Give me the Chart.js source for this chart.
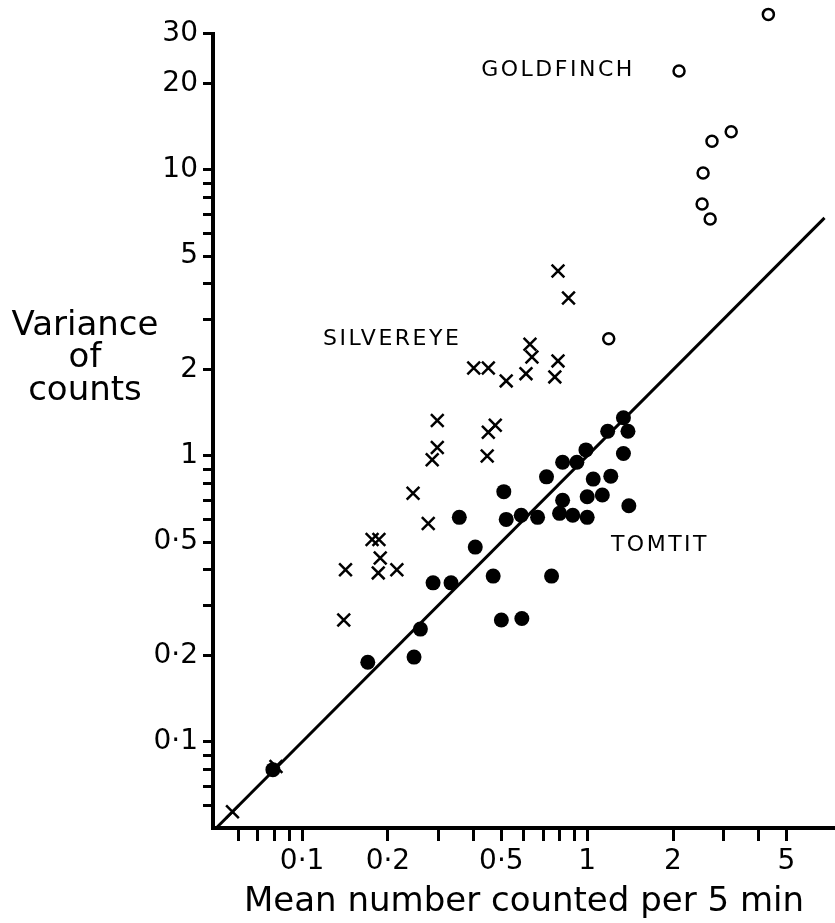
<!DOCTYPE html>
<html>
<head>
<meta charset="utf-8">
<script src="https://cdn.jsdelivr.net/npm/chart.js@4/dist/chart.umd.min.js"></script>
<style>
html,body{margin:0;padding:0;background:#ffffff;}
#wrap{width:835px;height:923px;position:relative;}
</style>
</head>
<body>
<div id="wrap"><canvas id="c" width="835" height="923"></canvas></div>
<script>
// ---- data ----
const tomtitMean = [0.079, 0.17, 0.247, 0.26, 0.288, 0.333, 0.356, 0.405, 0.468, 0.50, 0.59, 0.51, 0.52, 0.587, 0.67, 0.72, 0.75, 0.82, 0.92, 0.99, 0.82, 0.80, 0.89, 1.0, 1.0, 1.13, 1.05, 1.21, 1.18, 1.34, 1.39, 1.34, 1.40];
const tomtitVar  = [0.080, 0.19, 0.198, 0.248, 0.36, 0.36, 0.61, 0.48, 0.38, 0.267, 0.27, 0.75, 0.60, 0.62, 0.61, 0.845, 0.38, 0.95, 0.95, 1.05, 0.70, 0.63, 0.62, 0.61, 0.72, 0.73, 0.83, 0.85, 1.22, 1.36, 1.22, 1.02, 0.67];

const silvereyeMean = [0.057, 0.081, 0.14, 0.142, 0.176, 0.186, 0.188, 0.185, 0.215, 0.245, 0.277, 0.298, 0.298, 0.286, 0.40, 0.45, 0.52, 0.61, 0.63, 0.64, 0.79, 0.77, 0.476, 0.45, 0.446, 0.79, 0.86];
const silvereyeVar  = [0.057, 0.082, 0.267, 0.40, 0.51, 0.51, 0.44, 0.39, 0.40, 0.74, 0.58, 1.33, 1.07, 0.97, 2.03, 2.03, 1.83, 1.94, 2.46, 2.22, 2.15, 1.89, 1.28, 1.21, 1.0, 4.43, 3.57];

const goldfinchMean = [4.32, 2.10, 3.20, 2.74, 2.55, 2.53, 2.70, 1.19];
const goldfinchVar  = [35, 22.2, 13.6, 12.6, 9.76, 7.6, 6.74, 2.57];

const lineMean = [0.05, 6.8];
const lineVar  = [0.05, 6.8];

const xTickValues = [0.06, 0.07, 0.08, 0.09, 0.1, 0.2, 0.3, 0.4, 0.5, 0.6, 0.7, 0.8, 0.9, 1, 2, 3, 4, 5];
const xLabelValues = [0.1, 0.2, 0.5, 1, 2, 5];
const xLabelTexts  = ['0·1', '0·2', '0·5', '1', '2', '5'];

const yTickValues = [0.06, 0.07, 0.08, 0.09, 0.1, 0.2, 0.3, 0.4, 0.5, 0.6, 0.7, 0.8, 0.9, 1, 2, 3, 4, 5, 6, 7, 8, 9, 10, 20, 30];
const yLabelValues = [0.1, 0.2, 0.5, 1, 2, 5, 10, 20, 30];
const yLabelTexts  = ['0·1', '0·2', '0·5', '1', '2', '5', '10', '20', '30'];

const groupNames = ['GOLDFINCH', 'SILVEREYE', 'TOMTIT'];
const xTitle = 'Mean number counted per 5 min';
const yTitleLines = ['Variance', 'of', 'counts'];

// ---- helpers ----
const pts = (xs, ys) => xs.map((x, i) => ({x: x, y: ys[i]}));
const labelFor = (vals, texts) => (v) => {
  const i = vals.findIndex(t => Math.abs(t - v) / t < 1e-6);
  return i >= 0 ? texts[i] : '';
};
const FONT = "'DejaVu Sans', sans-serif";

// annotation anchors (data coordinates)
const annotAt = [
  {text: groupNames[0], x: 0.79, y: 22.4},
  {text: groupNames[1], x: 0.207, y: 2.55},
  {text: groupNames[2], x: 1.80,  y: 0.489}
];
const yAxisTop = 30;   // the vertical axis line stops at the 30 tick

const textPlugin = {
  id: 'texts',
  afterDraw(chart) {
    const ctx = chart.ctx;
    const xs = chart.scales.x, ys = chart.scales.y;
    const area = chart.chartArea;
    ctx.save();
    // vertical axis line (ends at the top tick, as in the original)
    ctx.strokeStyle = '#000';
    ctx.lineWidth = 4;
    ctx.lineCap = 'butt';
    ctx.beginPath();
    ctx.moveTo(area.left, ys.getPixelForValue(yAxisTop) - 1.5);
    ctx.lineTo(area.left, area.bottom + 2);
    ctx.stroke();

    ctx.fillStyle = '#000';
    ctx.textAlign = 'center';
    ctx.textBaseline = 'middle';
    ctx.font = '22px ' + FONT;
    try { ctx.letterSpacing = '2.5px'; } catch (e) {}
    annotAt.forEach(a => {
      ctx.fillText(a.text, xs.getPixelForValue(a.x), ys.getPixelForValue(a.y));
    });
    try { ctx.letterSpacing = '0px'; } catch (e) {}
    ctx.font = '34px ' + FONT;
    const cx = 85;
    const cys = [326, 358, 391];
    yTitleLines.forEach((t, i) => ctx.fillText(t, cx, cys[i]));
    ctx.restore();
  }
};

const chart = new Chart(document.getElementById('c'), {
  type: 'scatter',
  data: {
    datasets: [
      {
        label: 'line', type: 'line', data: pts(lineMean, lineVar),
        borderColor: '#000', borderWidth: 3, pointRadius: 0, showLine: true, fill: false, clip: false
      },
      {
        label: 'Tomtit', data: pts(tomtitMean, tomtitVar),
        pointStyle: 'circle', pointRadius: 7.5, backgroundColor: '#000', borderColor: '#000', borderWidth: 0, clip: false
      },
      {
        label: 'Silvereye', data: pts(silvereyeMean, silvereyeVar),
        pointStyle: 'crossRot', pointRadius: 9, borderColor: '#000', borderWidth: 2.5, clip: false
      },
      {
        label: 'Goldfinch', data: pts(goldfinchMean, goldfinchVar),
        pointStyle: 'circle', pointRadius: 5.5, backgroundColor: 'rgba(0,0,0,0)', borderColor: '#000', borderWidth: 2.5, clip: false
      }
    ]
  },
  options: {
    responsive: false,
    animation: false,
    devicePixelRatio: 1,
    layout: {padding: 0, autoPadding: false},
    plugins: {legend: {display: false}, tooltip: {enabled: false}},
    scales: {
      x: {
        type: 'logarithmic', position: 'bottom', min: 0.0487, max: 7.4,
        afterBuildTicks: s => { s.ticks = xTickValues.map(v => ({value: v})); },
        afterFit: s => { s.height = 95; s.paddingLeft = 0; s.paddingRight = 0; },
        ticks: {
          autoSkip: false, maxRotation: 0, minRotation: 0, padding: 4, color: '#000',
          font: {family: FONT, size: 28},
          callback: labelFor(xLabelValues, xLabelTexts)
        },
        grid: {display: true, drawOnChartArea: false, drawTicks: true, tickLength: 13, tickWidth: 3, tickColor: '#000'},
        border: {display: true, color: '#000', width: 4},
        title: {display: true, text: xTitle, color: '#000', font: {family: FONT, size: 34}, padding: {top: 0, bottom: 0}}
      },
      y: {
        type: 'logarithmic', position: 'left', min: 0.05, max: 39.3,
        afterBuildTicks: s => { s.ticks = yTickValues.map(v => ({value: v})); },
        afterFit: s => { s.width = 213; s.paddingTop = 0; s.paddingBottom = 0; },
        ticks: {
          autoSkip: false, padding: 5, color: '#000',
          font: {family: FONT, size: 28},
          callback: labelFor(yLabelValues, yLabelTexts)
        },
        grid: {display: true, drawOnChartArea: false, drawTicks: true, tickLength: 10, tickWidth: 3, tickColor: '#000'},
        border: {display: false}
      }
    }
  },
  plugins: [textPlugin]
});
</script>
</body>
</html>
